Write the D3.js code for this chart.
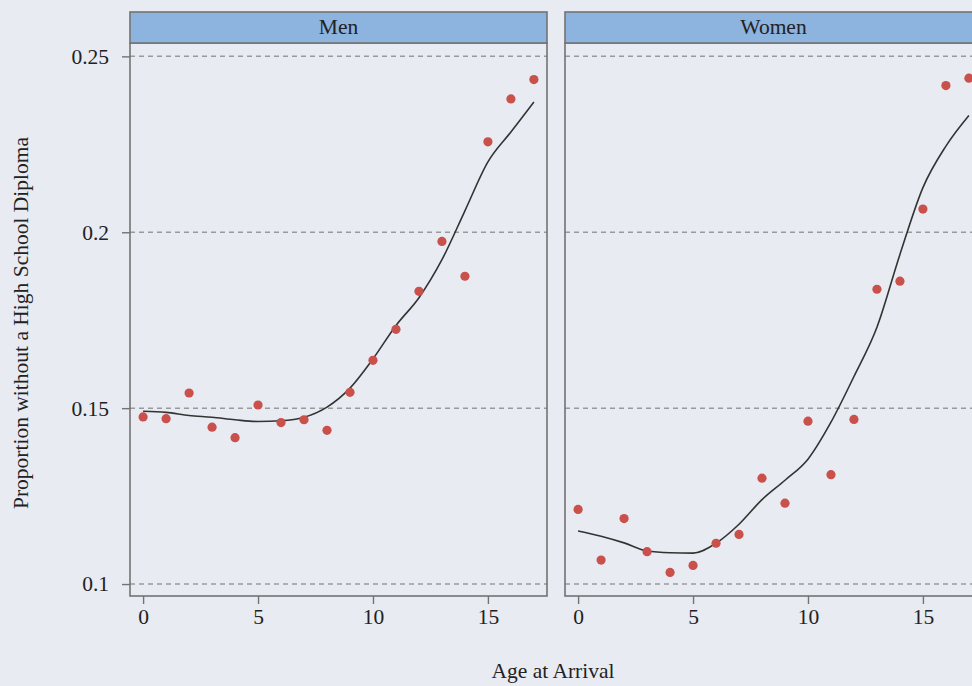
<!DOCTYPE html>
<html>
<head>
<meta charset="utf-8">
<script src="https://cdn.jsdelivr.net/npm/d3@7"></script>
<style>
  body { margin: 0; background: #e8ebf2; }
  svg { display: block; font-family: "Liberation Serif", "DejaVu Serif", serif; }
</style>
</head>
<body>
<svg id="chart" width="972" height="686"></svg>
<script>
// Observed proportions by age at arrival
const ages = [0, 1, 2, 3, 4, 5, 6, 7, 8, 9, 10, 11, 12, 13, 14, 15, 16, 17];
const menValues = [0.1475, 0.1470, 0.1543, 0.1446, 0.1416, 0.1509, 0.1459, 0.1467, 0.1437,
  0.1545, 0.1636, 0.1724, 0.1832, 0.1974, 0.1875, 0.2257, 0.2379, 0.2434];
const womenValues = [0.1212, 0.1068, 0.1186, 0.1092, 0.1033, 0.1053, 0.1116, 0.1141, 0.1301,
  0.1230, 0.1463, 0.1311, 0.1468, 0.1838, 0.1861, 0.2066, 0.2417, 0.2438];

// Smoothed fit
const menFit = [0.1491, 0.1488, 0.1479, 0.1474, 0.1467, 0.1462, 0.1464, 0.1474, 0.1503,
  0.1557, 0.1640, 0.1735, 0.1814, 0.1922, 0.2061, 0.2200, 0.2285, 0.2370];
const womenFit = [0.1151, 0.1136, 0.1117, 0.1094, 0.1089, 0.1088, 0.1116, 0.1170, 0.1240,
  0.1295, 0.1355, 0.1460, 0.1590, 0.1730, 0.1937, 0.2127, 0.2245, 0.2332];

const panelNames = ["Men", "Women"];
const yTicks = [0.1, 0.15, 0.2, 0.25];
const yTickLabels = ["0.1", "0.15", "0.2", "0.25"];
const xTicks = [0, 5, 10, 15];

const svg = d3.select("#chart");
const fontSize = "21.5px";

// Layout
const panelTop = 43;
const panelBottom = 596;
const stripTop = 12;
const panelWidth = 417;
const panelLefts = [130, 565];

const y = d3.scaleLinear().domain([0.0966, 0.2538]).range([panelBottom, panelTop]);

const panels = [
  { name: panelNames[0], values: menValues, fit: menFit },
  { name: panelNames[1], values: womenValues, fit: womenFit },
];

// Strip text, tick text: same serif look
function styleAxis(sel) {
  sel.attr("font-family", null).attr("font-size", null);
  sel.select(".domain").remove();
  sel.selectAll(".tick line").attr("stroke", "#737373").attr("stroke-width", 1.4);
  sel.selectAll(".tick text").attr("font-size", fontSize).attr("fill", "#222");
}

panels.forEach((p, i) => {
  const left = panelLefts[i];
  const x = d3.scaleLinear().domain([-0.57, 17.57]).range([left, left + panelWidth]);
  const g = svg.append("g").attr("class", "panel");

  // Panel background
  g.append("rect")
    .attr("x", left)
    .attr("y", panelTop)
    .attr("width", panelWidth)
    .attr("height", panelBottom - panelTop)
    .attr("fill", "#e8ebf2");

  // Dashed reference lines
  g.selectAll(".grid")
    .data(yTicks)
    .join("line")
    .attr("x1", left)
    .attr("x2", left + panelWidth)
    .attr("y1", (d) => y(d))
    .attr("y2", (d) => y(d))
    .attr("stroke", "#9a9a9a")
    .attr("stroke-width", 1.5)
    .attr("stroke-dasharray", "5,4");

  // Smooth line
  const line = d3
    .line()
    .x((d, j) => x(ages[j]))
    .y((d) => y(d))
    .curve(d3.curveMonotoneX);

  g.append("path")
    .datum(p.fit)
    .attr("d", line)
    .attr("fill", "none")
    .attr("stroke", "#333")
    .attr("stroke-width", 1.6);

  // Points
  g.selectAll(".pt")
    .data(p.values)
    .join("circle")
    .attr("cx", (d, j) => x(ages[j]))
    .attr("cy", (d) => y(d))
    .attr("r", 4.6)
    .attr("fill", "#c9504b");

  // Panel border
  g.append("rect")
    .attr("x", left)
    .attr("y", panelTop)
    .attr("width", panelWidth)
    .attr("height", panelBottom - panelTop)
    .attr("fill", "none")
    .attr("stroke", "#737373")
    .attr("stroke-width", 1.6);

  // Strip
  g.append("rect")
    .attr("x", left)
    .attr("y", stripTop)
    .attr("width", panelWidth)
    .attr("height", panelTop - stripTop)
    .attr("fill", "#8db3df")
    .attr("stroke", "#737373")
    .attr("stroke-width", 1.6);

  g.append("text")
    .attr("x", left + panelWidth / 2)
    .attr("y", stripTop + 22)
    .attr("text-anchor", "middle")
    .attr("font-size", fontSize)
    .attr("fill", "#222")
    .text(p.name);

  // x axis
  const xAxis = d3.axisBottom(x).tickValues(xTicks).tickSize(8).tickPadding(5).tickFormat(d3.format("d"));
  g.append("g").attr("transform", `translate(0,${panelBottom})`).call(xAxis).call(styleAxis);

  // y axis on the first panel only
  if (i === 0) {
    const yAxis = d3.axisLeft(y).tickValues(yTicks).tickSize(8).tickPadding(13)
      .tickFormat((d, j) => yTickLabels[j]);
    g.append("g").attr("transform", `translate(${left},0)`).call(yAxis).call(styleAxis);
  }
});

// Axis titles
svg.append("text")
  .attr("x", 553)
  .attr("y", 678)
  .attr("text-anchor", "middle")
  .attr("font-size", fontSize)
  .attr("fill", "#222")
  .text("Age at Arrival");

svg.append("text")
  .attr("transform", "translate(28,323) rotate(-90)")
  .attr("text-anchor", "middle")
  .attr("font-size", fontSize)
  .attr("fill", "#222")
  .text("Proportion without a High School Diploma");
</script>
</body>
</html>
